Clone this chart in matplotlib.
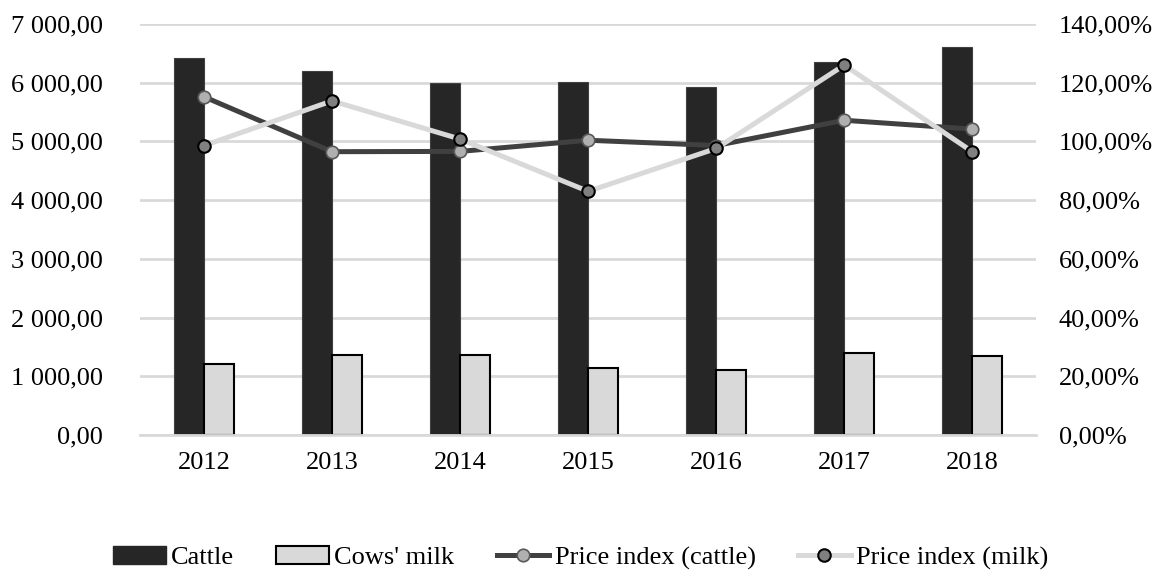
import matplotlib
matplotlib.use("Agg")
import matplotlib.pyplot as plt
import numpy as np
from matplotlib.patches import Patch
from matplotlib.lines import Line2D
from matplotlib.ticker import FuncFormatter

years = ["2012", "2013", "2014", "2015", "2016", "2017", "2018"]
cattle = [6420, 6200, 5990, 6010, 5930, 6350, 6600]
cows_milk = [1210, 1360, 1370, 1140, 1105, 1395, 1345]
idx_cattle = [115.2, 96.5, 96.6, 100.4, 98.6, 107.2, 104.2]
idx_milk = [98.6, 113.8, 100.8, 83.0, 97.6, 126.0, 96.5]

plt.rcParams["font.family"] = ["Liberation Serif", "DejaVu Serif"]
plt.rcParams["font.size"] = 19

fig = plt.figure(figsize=(11.61, 5.74), dpi=100)
ax = fig.add_axes([0.1206, 0.2422, 0.772, 0.7160])
ax2 = ax.twinx()

x = np.arange(len(years))
w = 0.235
ax.bar(x - w / 2, cattle, w, color="#262626", edgecolor="#404040", linewidth=0.8, zorder=2)
ax.bar(x + w / 2, cows_milk, w, color="#d9d9d9", edgecolor="black", linewidth=1.5, zorder=2)

ax.set_xlim(-0.5, len(years) - 0.5)
ax.set_ylim(0, 7000)
ax.set_yticks(np.arange(0, 7001, 1000))
ax.yaxis.set_major_formatter(FuncFormatter(
    lambda v, p: "{:,.2f}".format(v).replace(",", " ").replace(".", ",")))
ax.set_xticks(x)
ax.set_xticklabels(years)
ax.grid(axis="y", color="#d9d9d9", linewidth=2, zorder=0)
ax.set_axisbelow(True)
ax.tick_params(length=0, pad=12)
ax.tick_params(axis="y", pad=26.5)
for s in ["top", "right", "left"]:
    ax.spines[s].set_visible(False)
ax.spines["bottom"].set_color("#d9d9d9")
ax.spines["bottom"].set_linewidth(2)

# price indices on the secondary axis
ax2.plot(x, idx_cattle, color="#404040", lw=3.6, marker="o", ms=9,
         mfc="#b0b0b0", mec="#595959", mew=1.2, zorder=3)
ax2.plot(x, idx_milk, color="#d9d9d9", lw=3.6, marker="o", ms=9,
         mfc="#808080", mec="black", mew=1.5, zorder=4)
ax2.set_ylim(0, 140)
ax2.set_yticks(np.arange(0, 141, 20))
ax2.yaxis.set_major_formatter(FuncFormatter(
    lambda v, p: "{:.2f}%".format(v).replace(".", ",")))
ax2.tick_params(length=0, pad=16)
for s in ["top", "right", "left", "bottom"]:
    ax2.spines[s].set_visible(False)

handles = [
    Patch(facecolor="#262626", edgecolor="#262626"),
    Patch(facecolor="#d9d9d9", edgecolor="black", linewidth=1.5),
    Line2D([], [], color="#404040", lw=3.6, marker="o", ms=9,
           mfc="#b0b0b0", mec="#595959", mew=1.2),
    Line2D([], [], color="#d9d9d9", lw=3.6, marker="o", ms=9,
           mfc="#808080", mec="black", mew=1.5),
]
labels = ["Cattle", "Cows' milk", "Price index (cattle)", "Price index (milk)"]
fig.legend(handles, labels, loc="center", bbox_to_anchor=(0.5, 0.028),
           ncol=4, frameon=False, handlelength=2.0, handletextpad=0.2,
           columnspacing=1.6, borderpad=0)

fig.savefig("out.png", dpi=100)
